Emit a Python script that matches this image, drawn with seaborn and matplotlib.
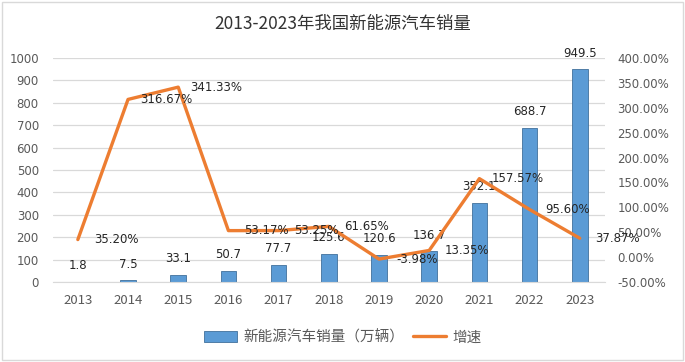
import pandas as pd
import seaborn as sns
import matplotlib.pyplot as plt
from matplotlib.patches import Rectangle

# data
years = ['2013', '2014', '2015', '2016', '2017', '2018', '2019', '2020', '2021', '2022', '2023']
sales = [1.8, 7.5, 33.1, 50.7, 77.7, 125.6, 120.6, 136.7, 352.1, 688.7, 949.5]
growth = [35.20, 316.67, 341.33, 53.17, 53.25, 61.65, -3.98, 13.35, 157.57, 95.60, 37.87]

df = pd.DataFrame({'year': years, 'sales': sales, 'growth': growth})

sns.set_style('white')
plt.rcParams['font.family'] = ['Noto Sans CJK SC', 'DejaVu Sans']

BLUE = '#5B9BD5'
ORANGE = '#ED7D31'
GREY = '#595959'
NUM = ['DejaVu Sans']

fig = plt.figure(figsize=(6.85, 3.62), dpi=100)
ax = fig.add_axes([0.077, 0.221, 0.806, 0.619])

sns.barplot(data=df, x='year', y='sales', ax=ax, color=BLUE, width=0.31,
            edgecolor='#41719C', linewidth=0.6, saturation=1,
            label='新能源汽车销量（万辆）')
ax.bar_label(ax.containers[0], labels=[f'{v:g}' for v in sales],
             padding=7, fontsize=8.5, color='#262626', family=NUM)

ax.set_ylim(0, 1000)
ax.set_yticks(range(0, 1001, 100))
ax.yaxis.grid(True, color='#D9D9D9', linewidth=0.9)
ax.set_axisbelow(True)
ax.set_xlabel('')
ax.set_ylabel('')
ax.tick_params(axis='both', length=0, colors=GREY)
ax.tick_params(axis='y', labelsize=8.5, pad=10)
ax.tick_params(axis='x', labelsize=9.5, pad=9)
for t in ax.get_yticklabels():
    t.set_family(NUM)
for s in ['left', 'right', 'top']:
    ax.spines[s].set_visible(False)
ax.spines['bottom'].set_color('#D9D9D9')

ax2 = ax.twinx()
sns.lineplot(data=df, x='year', y='growth', ax=ax2, color=ORANGE,
             linewidth=2.4, label='增速', legend=False)
ax2.set_ylim(-50, 400)
ax2.set_yticks(range(-50, 401, 50))
ax2.set_yticklabels([f'{v:.2f}%' for v in range(-50, 401, 50)], family=NUM)
ax2.set_ylabel('')
ax2.tick_params(axis='y', length=0, labelsize=8.5, colors=GREY, pad=9)
for s in ax2.spines.values():
    s.set_visible(False)

for i, g in enumerate(growth):
    ax2.annotate(f'{g:.2f}%', (i, g), xytext=(27.5, 0), textcoords='offset points',
                 ha='center', va='center', fontsize=8.5, color='#262626', family=NUM)

ax.set_xlim(-0.5, len(years) - 0.5)

h1, l1 = ax.get_legend_handles_labels()
h2, l2 = ax2.get_legend_handles_labels()
if ax.get_legend():
    ax.get_legend().remove()
fig.legend(h1 + h2, l1 + l2, loc='center', bbox_to_anchor=(0.5, 0.068),
           ncol=2, frameon=False, fontsize=10.5, labelcolor=GREY,
           handlelength=2.3, handleheight=0.7, columnspacing=0.6, handletextpad=0.4)

fig.suptitle('2013-2023年我国新能源汽车销量', y=0.958, fontsize=12.5, color='#333333')

fig.patches.append(Rectangle((0.003, 0.006), 0.994, 0.988, transform=fig.transFigure,
                             fill=False, edgecolor='#D9D9D9', linewidth=1))

fig.savefig('out.png', dpi=100)
